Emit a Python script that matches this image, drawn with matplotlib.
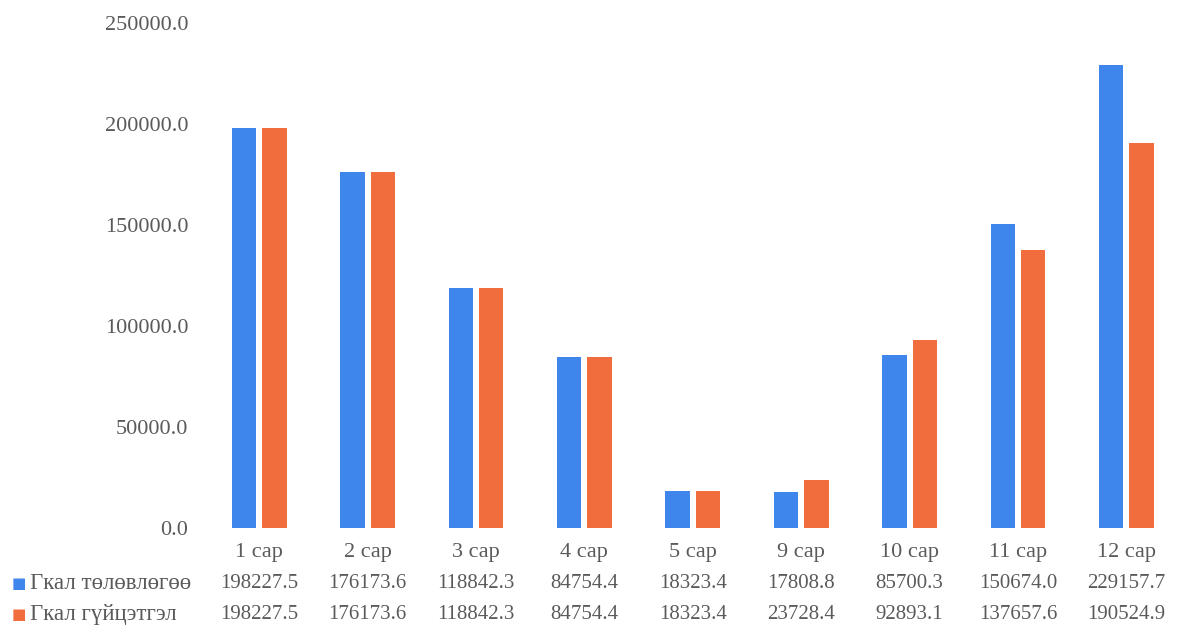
import matplotlib
matplotlib.use("Agg")
import matplotlib.pyplot as plt
import matplotlib.transforms as mtransforms
import numpy as np

months = ['1 сар', '2 сар', '3 сар', '4 сар', '5 сар', '9 сар', '10 сар', '11 сар', '12 сар']
plan = [198227.5, 176173.6, 118842.3, 84754.4, 18323.4, 17808.8, 85700.3, 150674.0, 229157.7]
actual = [198227.5, 176173.6, 118842.3, 84754.4, 18323.4, 23728.4, 92893.1, 137657.6, 190524.9]
series_names = ['Гкал төлөвлөгөө', 'Гкал гүйцэтгэл']

blue = '#3f86ec'
orange = '#f26d3d'
txt = '#5a5a5a'

plt.rcParams['font.family'] = ['Liberation Serif', 'DejaVu Serif']

fig = plt.figure(figsize=(11.81, 6.34), dpi=100)
ax = fig.add_axes([0.1736, 0.1672, 0.826, 0.7965])

x = np.arange(len(months))
w = 0.225
ax.bar(x - 0.14, plan, w, color=blue)
ax.bar(x + 0.14, actual, w, color=orange)

ax.set_xlim(-0.5, len(months) - 0.5)
ax.set_ylim(0, 250000)
ax.set_yticks(np.arange(0, 250001, 50000))
ax.set_yticklabels(['%.1f' % v for v in np.arange(0, 250001, 50000)], fontsize=16, color=txt)
ax.tick_params(axis='y', length=0, pad=12)
ax.set_xticks(x)
ax.set_xticklabels(months, fontsize=16, color=txt)
ax.tick_params(axis='x', length=0, pad=11)
for s in ax.spines.values():
    s.set_visible(False)

# data table under the chart
trans = mtransforms.blended_transform_factory(ax.transData, ax.transAxes)
rows = [plan, actual]
row_y = [-0.109, -0.171]
colors = [blue, orange]
for vals, yy, c, name in zip(rows, row_y, colors, series_names):
    for xi, v in zip(x, vals):
        ax.text(xi, yy, '%.1f' % v, transform=trans, ha='center', va='center',
                fontsize=15, color=txt)
    fy = ax.get_position().y0 + yy * ax.get_position().height
    fig.text(0.0095, fy, '■', family=['DejaVu Sans'], fontsize=11, color=c,
             ha='left', va='center')
    fig.text(0.025, fy, name, fontsize=16.5, color=txt, ha='left', va='center')

fig.savefig('out.png', dpi=100)
